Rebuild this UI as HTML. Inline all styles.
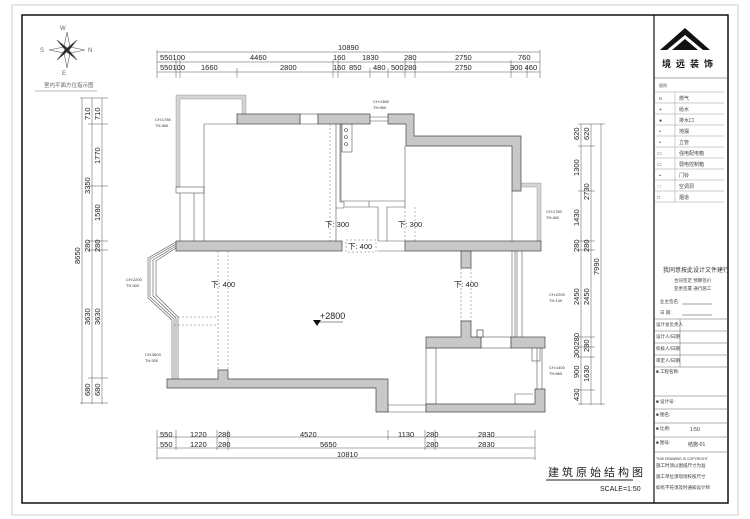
<!DOCTYPE html>
<html><head><meta charset="utf-8"><style>
html,body{margin:0;padding:0;background:#fff;}
svg{display:block;font-family:"Liberation Sans","Noto Sans CJK SC",sans-serif;}
</style></head><body>
<svg width="750" height="519" viewBox="0 0 750 519" xmlns="http://www.w3.org/2000/svg">
<rect x="12" y="5" width="726" height="510" fill="none" stroke="#ddd" stroke-width="1.5"/>
<rect x="22" y="15" width="706" height="488" fill="none" stroke="#111" stroke-width="1.5"/>
<line x1="654" y1="15" x2="654" y2="503" stroke="#111" stroke-width="1.2"/>

<!-- compass -->
<g transform="translate(67,50)" stroke="#555" stroke-width="0.6">
<polygon points="0,-18 3,-3 18,0 3,3 0,18 -3,3 -18,0 -3,-3" fill="#fff"/>
<polygon points="-10,-10 0,-2 10,10 0,2" fill="#222"/>
<polygon points="10,-10 2,0 -10,10 -2,0" fill="#222"/>
</g>
<text x="60" y="30" font-size="6" fill="#666">W</text>
<text x="40" y="52" font-size="6" fill="#666">S</text>
<text x="88" y="52" font-size="6" fill="#666">N</text>
<text x="62" y="75" font-size="6" fill="#666">E</text>
<text x="44" y="87" font-size="5.5" fill="#666">室内平面方位指示图</text>
<line x1="35" y1="91" x2="97" y2="91" stroke="#777" stroke-width="0.6"/>

<g stroke="#555" stroke-width="0.5" fill="none">
<line x1="157" y1="52" x2="540" y2="52"/><line x1="157" y1="62" x2="540" y2="62"/><line x1="157" y1="72" x2="540" y2="72"/>
<line x1="157" y1="50" x2="157" y2="78"/><line x1="540" y1="50" x2="540" y2="78"/>
<line x1="176" y1="60" x2="176" y2="78"/><line x1="180" y1="60" x2="180" y2="78"/><line x1="237" y1="68" x2="237" y2="78"/>
<line x1="333" y1="60" x2="333" y2="78"/><line x1="338" y1="60" x2="338" y2="78"/><line x1="370" y1="68" x2="370" y2="78"/>
<line x1="388" y1="68" x2="388" y2="78"/><line x1="405" y1="60" x2="405" y2="78"/><line x1="415" y1="60" x2="415" y2="78"/>
<line x1="511" y1="60" x2="511" y2="78"/><line x1="527" y1="68" x2="527" y2="78"/>
<line x1="82" y1="98" x2="82" y2="404"/><line x1="92" y1="98" x2="92" y2="404"/><line x1="102" y1="98" x2="102" y2="404"/>
<line x1="80" y1="98" x2="108" y2="98"/><line x1="88" y1="124" x2="108" y2="124"/><line x1="88" y1="186" x2="108" y2="186"/>
<line x1="88" y1="241" x2="108" y2="241"/><line x1="88" y1="250" x2="108" y2="250"/><line x1="88" y1="378" x2="108" y2="378"/><line x1="80" y1="403" x2="108" y2="403"/>
<line x1="581" y1="124" x2="581" y2="405"/><line x1="591" y1="124" x2="591" y2="405"/><line x1="601" y1="124" x2="601" y2="405"/>
<line x1="578" y1="124" x2="605" y2="124"/><line x1="578" y1="146" x2="595" y2="146"/><line x1="578" y1="191" x2="595" y2="191"/>
<line x1="578" y1="241" x2="595" y2="241"/><line x1="578" y1="250" x2="595" y2="250"/><line x1="578" y1="337" x2="595" y2="337"/>
<line x1="578" y1="347" x2="595" y2="347"/><line x1="578" y1="357" x2="595" y2="357"/><line x1="578" y1="390" x2="595" y2="390"/><line x1="578" y1="404" x2="605" y2="404"/>
<line x1="157" y1="437" x2="535" y2="437"/><line x1="157" y1="448" x2="535" y2="448"/><line x1="157" y1="458" x2="535" y2="458"/>
<line x1="157" y1="430" x2="157" y2="460"/><line x1="535" y1="430" x2="535" y2="460"/>
<line x1="176" y1="430" x2="176" y2="450"/><line x1="217" y1="430" x2="217" y2="450"/><line x1="228" y1="430" x2="228" y2="450"/>
<line x1="388" y1="430" x2="388" y2="440"/><line x1="425" y1="430" x2="425" y2="450"/><line x1="435" y1="430" x2="435" y2="450"/>
</g>
<g font-size="7.5" fill="#222">
<text x="338" y="50">10890</text>
<text x="160" y="60">550100</text><text x="250" y="60">4460</text><text x="333" y="60">160</text><text x="362" y="60">1830</text><text x="404" y="60">280</text><text x="455" y="60">2750</text><text x="518" y="60">760</text>
<text x="160" y="70">550100</text><text x="201" y="70">1660</text><text x="280" y="70">2800</text><text x="333" y="70">160</text><text x="349" y="70">850</text><text x="373" y="70">480</text><text x="391" y="70">500</text><text x="404" y="70">280</text><text x="455" y="70">2750</text><text x="510" y="70">300 460</text>
<text x="160" y="437">550</text><text x="190" y="437">1220</text><text x="218" y="437">280</text><text x="300" y="437">4520</text><text x="398" y="437">1130</text><text x="426" y="437">280</text><text x="478" y="437">2830</text>
<text x="160" y="447">550</text><text x="190" y="447">1220</text><text x="218" y="447">280</text><text x="320" y="447">5650</text><text x="426" y="447">280</text><text x="478" y="447">2830</text>
<text x="337" y="457">10810</text>
</g>
<g font-size="7.5" fill="#222">
<text transform="translate(90,120) rotate(-90)">710</text><text transform="translate(100,120) rotate(-90)">710</text>
<text transform="translate(100,164) rotate(-90)">1770</text><text transform="translate(90,194) rotate(-90)">3350</text>
<text transform="translate(100,221) rotate(-90)">1580</text><text transform="translate(90,252) rotate(-90)">280</text><text transform="translate(100,252) rotate(-90)">280</text>
<text transform="translate(80,264) rotate(-90)">8650</text>
<text transform="translate(90,325) rotate(-90)">3630</text><text transform="translate(100,325) rotate(-90)">3630</text>
<text transform="translate(90,396) rotate(-90)">680</text><text transform="translate(100,396) rotate(-90)">680</text>
<text transform="translate(579,140) rotate(-90)">620</text><text transform="translate(589,140) rotate(-90)">620</text>
<text transform="translate(579,176) rotate(-90)">1300</text><text transform="translate(589,200) rotate(-90)">2730</text>
<text transform="translate(579,226) rotate(-90)">1430</text><text transform="translate(579,252) rotate(-90)">280</text><text transform="translate(589,252) rotate(-90)">280</text>
<text transform="translate(599,275) rotate(-90)">7990</text>
<text transform="translate(579,305) rotate(-90)">2450</text><text transform="translate(589,305) rotate(-90)">2450</text>
<text transform="translate(579,358) rotate(-90)">300280</text><text transform="translate(589,352) rotate(-90)">280</text>
<text transform="translate(579,378) rotate(-90)">900</text><text transform="translate(589,382) rotate(-90)">1630</text>
<text transform="translate(579,401) rotate(-90)">430</text>
</g>

<!-- light walls -->
<g fill="#d4d4d4" stroke="#888" stroke-width="0.4">
<polygon points="176,95 246,95 246,114 242,114 242,99 180,99 180,187 176,187"/>
<polygon points="512,183 541,183 541,241 537,241 537,187 512,187"/>
</g>
<!-- thin lines -->
<g stroke="#555" stroke-width="0.6" fill="none">
<rect x="176" y="187" width="28" height="6"/>
<line x1="194" y1="193" x2="194" y2="241"/><line x1="204" y1="124" x2="204" y2="241"/>
<line x1="180" y1="193" x2="180" y2="241"/>
<line x1="204" y1="124" x2="237" y2="124"/>
<rect x="300" y="114" width="18" height="10"/>
<line x1="370" y1="117" x2="388" y2="117"/><line x1="370" y1="121" x2="388" y2="121"/>
<line x1="336" y1="124" x2="336" y2="241"/>
<polyline points="340,124 340,202 344,202 344,208 336,208"/>
<polyline points="341,124 341,201 405,201"/>
<polyline points="369,201 369,207 378,207 378,241"/>
<polyline points="405,146 405,207 387,207 387,241"/>
<line x1="345" y1="207" x2="369" y2="207"/>
<rect x="342" y="124" width="10" height="28"/>
<line x1="512" y1="191" x2="512" y2="241"/>
<line x1="378" y1="241" x2="405" y2="241"/><line x1="378" y1="251" x2="405" y2="251"/>
<polyline points="176,242 148,258 148,298 172,320 172,379"/>
<polyline points="176,244 150,259 150,297 174,319 174,379"/>
<polyline points="176,246 153,260 153,296 176,318 176,379"/>
<polyline points="176,248 156,261 156,295 178,317 178,379"/>
<line x1="512" y1="251" x2="512" y2="337"/><line x1="515" y1="251" x2="515" y2="337"/><line x1="517" y1="251" x2="517" y2="337"/><line x1="522" y1="251" x2="522" y2="337"/>
<line x1="388" y1="405" x2="426" y2="405"/><line x1="388" y1="412" x2="426" y2="412"/>
<line x1="388" y1="404" x2="388" y2="412"/><line x1="426" y1="404" x2="426" y2="412"/>
<rect x="426" y="348" width="10" height="56"/>
<line x1="537" y1="348" x2="537" y2="389"/><line x1="542" y1="348" x2="542" y2="389"/>
<rect x="532" y="347" width="8" height="14"/>
<polyline points="515,404 515,394 533,394"/>
<rect x="481" y="337" width="30" height="11"/>
</g>
<g stroke="#777" stroke-width="0.5" stroke-dasharray="2,2" fill="none">
<line x1="330" y1="124" x2="330" y2="241"/>
<line x1="405" y1="207" x2="405" y2="241"/><line x1="415" y1="207" x2="415" y2="241"/>
<line x1="218" y1="251" x2="218" y2="370"/><line x1="228" y1="251" x2="228" y2="370"/>
<line x1="461" y1="268" x2="461" y2="321"/><line x1="471" y1="268" x2="471" y2="321"/>
<line x1="174" y1="317" x2="218" y2="317"/><line x1="174" y1="325" x2="218" y2="325"/>
<rect x="346" y="240" width="30" height="12"/>
</g>
<!-- walls -->
<g fill="#c8c8c8" stroke="#444" stroke-width="0.7">
<rect x="237" y="114" width="63" height="10"/><rect x="318" y="114" width="52" height="10"/>
<polygon points="388,114 414,114 414,136 521,136 521,191 512,191 512,146 406,146 406,124 388,124"/>
<rect x="176" y="241" width="166" height="10"/><rect x="405" y="241" width="136" height="10"/>
<rect x="461" y="251" width="10" height="17"/>
<polygon points="167,379 218,379 218,370 228,370 228,379 388,379 388,412 376,412 376,388 167,388"/>
<polygon points="426,337 461,337 461,321 471,321 471,337 481,337 481,348 426,348"/>
<rect x="511" y="337" width="34" height="11"/>
<polygon points="535,389 545,389 545,412 426,412 426,404 535,404"/>
<rect x="477" y="330" width="6" height="7" fill="#fff"/>
</g>
<g fill="#fff" stroke="#444" stroke-width="0.6">
<circle cx="346" cy="130" r="1.5"/><circle cx="346" cy="137" r="1.5"/><circle cx="346" cy="144" r="1.5"/>
</g>
<g font-size="4" fill="#333">
<text x="155" y="121">CH:1780</text><text x="155" y="127">TH:460</text>
<text x="373" y="103">CH:1380</text><text x="373" y="109">TH:950</text>
<text x="546" y="213">CH:1780</text><text x="546" y="219">TH:460</text>
<text x="126" y="281">CH:2200</text><text x="126" y="287">TH:300</text>
<text x="145" y="356">CH:3600</text><text x="145" y="362">TH:300</text>
<text x="549" y="296">CH:2200</text><text x="549" y="302">TH:140</text>
<text x="549" y="369">CH:1400</text><text x="549" y="375">TH:860</text>
</g>
<g font-size="7.5" fill="#222">
<text x="325" y="227">下: 300</text><text x="398" y="227">下: 300</text>
<text x="348" y="249">下: 400</text><text x="211" y="287">下: 400</text><text x="454" y="287">下: 400</text>
<text x="320" y="319" font-size="9">+2800</text>
</g>
<line x1="318" y1="322" x2="343" y2="322" stroke="#222" stroke-width="0.6"/>
<polygon points="313,320 321,320 317,326" fill="#111"/>

<text x="548" y="476" font-size="11" fill="#222" letter-spacing="3">建筑原始结构图</text>
<line x1="546" y1="480" x2="633" y2="480" stroke="#222" stroke-width="1"/>
<text x="600" y="491" font-size="7" fill="#222">SCALE=1:50</text>

<polygon points="660,50 685,28 710,50 703,50 685,35 667,50" fill="#111"/>
<polygon points="672,50 685,39 698,50" fill="#111"/>
<text x="662" y="67" font-size="9" font-weight="bold" fill="#111" letter-spacing="5">境远装饰</text>
<line x1="654" y1="78" x2="728" y2="78" stroke="#555" stroke-width="0.5"/>
<text x="659" y="87" font-size="4" fill="#555">图例</text>
<g stroke="#999" stroke-width="0.5">
<line x1="654" y1="92" x2="724" y2="92"/><line x1="654" y1="103" x2="724" y2="103"/><line x1="654" y1="114" x2="724" y2="114"/>
<line x1="654" y1="125" x2="724" y2="125"/><line x1="654" y1="136" x2="724" y2="136"/><line x1="654" y1="147" x2="724" y2="147"/>
<line x1="654" y1="158" x2="724" y2="158"/><line x1="654" y1="169" x2="724" y2="169"/><line x1="654" y1="180" x2="724" y2="180"/>
<line x1="654" y1="191" x2="724" y2="191"/><line x1="654" y1="202" x2="724" y2="202"/>
<line x1="675" y1="92" x2="675" y2="202"/>
</g>
<g font-size="5" fill="#444">
<text x="659" y="100">o</text><text x="679" y="100">燃气</text>
<text x="659" y="111">+</text><text x="679" y="111">给水</text>
<text x="659" y="122">●</text><text x="679" y="122">排水口</text>
<text x="659" y="133">•</text><text x="679" y="133">地漏</text>
<text x="659" y="144">•</text><text x="679" y="144">立管</text>
<text x="657" y="155">▭</text><text x="679" y="155">强电配电箱</text>
<text x="657" y="166">▭</text><text x="679" y="166">弱电控制箱</text>
<text x="659" y="177">▪</text><text x="679" y="177">门铃</text>
<text x="657" y="188">:::</text><text x="679" y="188">空调洞</text>
<text x="657" y="199">□</text><text x="679" y="199">烟道</text>
</g>
<text x="663" y="272" font-size="6" fill="#333">我同意按此设计文件建行</text>
<text x="674" y="282" font-size="4.5" fill="#444">合同签定  预算签价</text>
<text x="674" y="290" font-size="4.5" fill="#444">变更签署  通行施工</text>
<text x="660" y="303" font-size="4.5" fill="#444">业主签名:</text><line x1="682" y1="304" x2="712" y2="304" stroke="#444" stroke-width="0.5"/>
<text x="660" y="314" font-size="4.5" fill="#444">日    期:</text><line x1="682" y1="315" x2="712" y2="315" stroke="#444" stroke-width="0.5"/>
<g stroke="#666" stroke-width="0.5" fill="none">
<line x1="654" y1="319" x2="728" y2="319"/><line x1="654" y1="331" x2="728" y2="331"/><line x1="654" y1="343" x2="728" y2="343"/>
<line x1="654" y1="355" x2="728" y2="355"/><line x1="654" y1="367" x2="728" y2="367"/><line x1="654" y1="396" x2="728" y2="396"/>
<line x1="654" y1="409" x2="728" y2="409"/><line x1="654" y1="423" x2="728" y2="423"/><line x1="654" y1="437" x2="728" y2="437"/><line x1="654" y1="452" x2="728" y2="452"/>
<line x1="680" y1="319" x2="680" y2="367"/>
</g>
<g font-size="4.5" fill="#333">
<text x="656" y="326">设计总负责人</text><text x="656" y="338">设计人/日期</text><text x="656" y="350">校核人/日期</text><text x="656" y="362">审定人/日期</text>
<text x="656" y="373">■ 工程名称:</text><text x="656" y="403">■ 设计号:</text><text x="656" y="416">■ 图名:</text><text x="656" y="430">■ 比例:</text><text x="690" y="431" font-size="5">1:50</text>
<text x="656" y="444">■ 图号:</text><text x="688" y="446" font-size="5">结施-01</text>
<text x="656" y="460" font-size="3.5">THIS DRAWING IS COPYRIGHT</text>
<text x="656" y="467">施工时须以图纸尺寸为准</text>
<text x="656" y="478">施工单位须现场校核尺寸</text>
<text x="656" y="489">如有不符须及时通知设计师</text>
</g>
</svg>
</body></html>
